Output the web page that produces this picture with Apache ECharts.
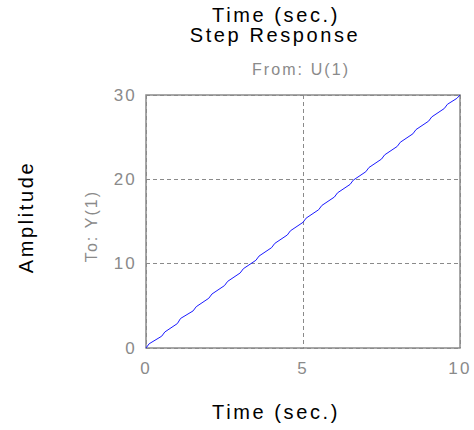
<!DOCTYPE html>
<html>
<head>
<meta charset="utf-8">
<script src="https://cdn.jsdelivr.net/npm/echarts@6/dist/echarts.min.js"></script>
<style>
html,body{margin:0;padding:0;background:#fff;}
#chart{width:474px;height:430px;}
#chart text{letter-spacing:0.13em;}
</style>
</head>
<body>
<div id="chart"></div>
<script>
var topTitle = 'Time (sec.)';
var mainTitle = 'Step Response';
var inputLabel = 'From: U(1)';
var outputLabel = 'To: Y(1)';
var yAxisTitle = 'Amplitude';
var xAxisTitle = 'Time (sec.)';

var timeValues = [0,0.1,0.5,0.6,1.0,1.1,1.5,1.6,2.0,2.1,2.5,2.6,3.0,3.1,3.5,3.6,4.0,4.1,4.5,4.6,5.0,5.1,5.5,5.6,6.0,6.1,6.5,6.6,7.0,7.1,7.5,7.6,8.0,8.1,8.5,8.6,9.0,9.1,9.5,9.6,9.9,10];
var amplitudeValues = [0,0.5,1.4,1.9,2.9,3.5,4.4,4.9,5.9,6.4,7.4,7.9,8.9,9.4,10.4,10.9,11.9,12.4,13.4,13.9,14.9,15.4,16.4,16.9,17.9,18.4,19.4,19.9,20.9,21.4,22.4,22.9,23.9,24.4,25.4,25.9,26.9,27.4,28.4,28.9,29.6,30];

var xMin = 0, xMax = 10, xStep = 5;
var yMin = 0, yMax = 30, yStep = 10;

var gray = '#8a8a8a';
var font = 'Liberation Sans, Arial, sans-serif';

var seriesData = timeValues.map(function (t, i) { return [t, amplitudeValues[i]]; });

var chart = echarts.init(document.getElementById('chart'), null, {renderer: 'svg'});
chart.setOption({
  animation: false,
  backgroundColor: '#fff',
  grid: {left: 146, right: 14, top: 95, bottom: 82, show: true, borderColor: gray, borderWidth: 1.5, backgroundColor: 'transparent'},
  xAxis: {
    type: 'value', min: xMin, max: xMax, interval: xStep,
    axisLine: {show: false}, axisTick: {show: false},
    axisLabel: {color: gray, fontSize: 17, fontFamily: font, margin: 12},
    splitLine: {show: true, lineStyle: {color: gray, type: [4, 3], width: 1}}
  },
  yAxis: {
    type: 'value', min: yMin, max: yMax, interval: yStep,
    axisLine: {show: false}, axisTick: {show: false},
    axisLabel: {color: gray, fontSize: 17, fontFamily: font, margin: 9},
    splitLine: {show: true, lineStyle: {color: gray, type: [4, 3], width: 1}}
  },
  series: [{
    type: 'line', data: seriesData, showSymbol: false, symbol: 'none',
    lineStyle: {color: '#1a1aff', width: 1}
  }],
  graphic: [
    {type: 'text', x: 276, y: 15, style: {text: topTitle, fill: '#000', font: '20px ' + font, lineHeight: 14, textAlign: 'center', textVerticalAlign: 'middle'}},
    {type: 'text', x: 275, y: 35, style: {text: mainTitle, fill: '#000', font: '20px ' + font, lineHeight: 14, textAlign: 'center', textVerticalAlign: 'middle'}},
    {type: 'text', x: 301, y: 69, style: {text: inputLabel, fill: gray, font: '16px ' + font, textAlign: 'center', textVerticalAlign: 'middle'}},
    {type: 'text', x: 276, y: 412, style: {text: xAxisTitle, fill: '#000', font: '20px ' + font, textAlign: 'center', textVerticalAlign: 'middle'}},
    {type: 'text', x: 26, y: 217, rotation: Math.PI / 2, style: {text: yAxisTitle, fill: '#000', font: '20px ' + font, textAlign: 'center', textVerticalAlign: 'middle'}},
    {type: 'text', x: 91, y: 226, rotation: Math.PI / 2, style: {text: outputLabel, fill: gray, font: '16px ' + font, textAlign: 'center', textVerticalAlign: 'middle'}}
  ]
});
</script>
</body>
</html>
